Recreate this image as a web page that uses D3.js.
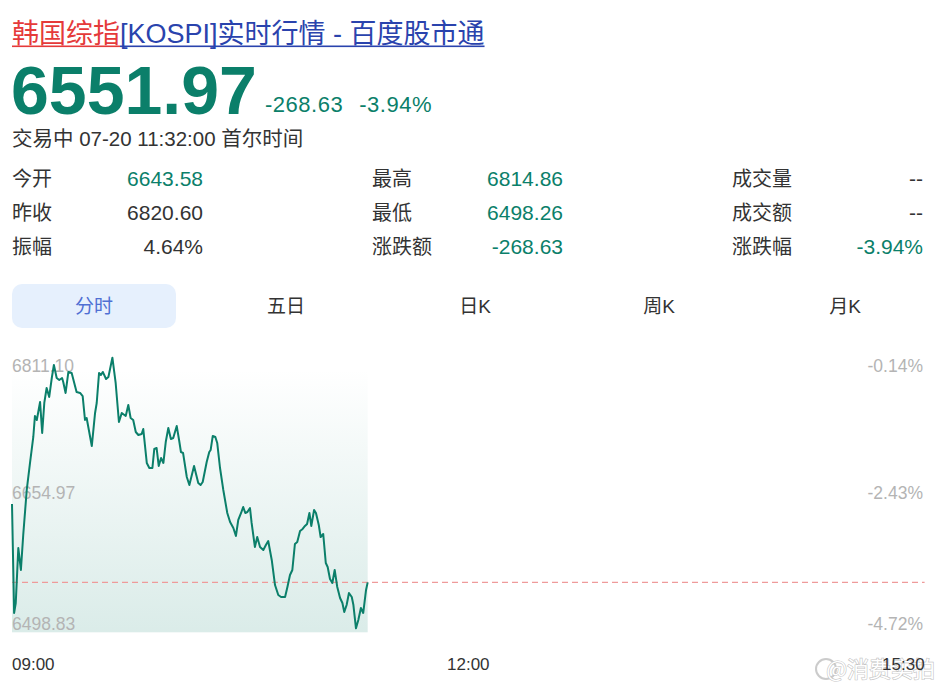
<!DOCTYPE html>
<html>
<head>
<meta charset="utf-8">
<script src="https://cdn.jsdelivr.net/npm/d3@7"></script>
<style>
  html, body { margin: 0; padding: 0; background: #fff; }
  svg { display: block; font-family: "Liberation Sans", Arial, "Noto Sans CJK SC", sans-serif; }
</style>
</head>
<body>
<div id="chart"></div>
<script>
// ---- data ----
const TITLE_RED = "韩国综指";
const TITLE_BLUE = "[KOSPI]实时行情 - 百度股市通";
const LAST_PRICE = 6551.97;
const CHANGE_TEXT = ["-268.63", "-3.94%"];
const STATUS_TEXT = "交易中 07-20 11:32:00 首尔时间";

const statLabels = [["今开", "昨收", "振幅"], ["最高", "最低", "涨跌额"], ["成交量", "成交额", "涨跌幅"]];
const statValues = [["6643.58", "6820.60", "4.64%"], ["6814.86", "6498.26", "-268.63"], ["--", "--", "-3.94%"]];
const statGreen = [[true, false, false], [true, true, true], [false, false, true]];

const tabs = ["分时", "五日", "日K", "周K", "月K"];

const priceTicks = [6811.10, 6654.97, 6498.83];
const pctTicks = ["-0.14%", "-2.43%", "-4.72%"];
const timeTicks = ["09:00", "12:00", "15:30"];
const SESSION_MINUTES = 390; // 09:00 - 15:30
const DAY_HIGH = 6814.86, DAY_LOW = 6498.26;

// minutes after 09:00
const minutes = [0, 0.9, 1.6, 2.7, 3.8, 4.8, 6.3, 7.7, 9.1, 9.8, 10.6, 12.0, 12.9, 13.8, 14.8, 15.9, 17.0, 17.9, 19.1, 20.2,
  21.4, 21.9, 22.9, 24.1, 25.5, 27.6, 29.1, 30.2, 31.2, 31.9, 34.1, 35.5, 36.2, 37.2, 38.0, 38.8, 40.2, 41.2, 42.9, 44.3,
  45.7, 46.9, 48.6, 49.7, 50.7, 51.8, 52.9, 54.0, 55.4, 56.1, 57.6, 58.7, 60.0, 60.8, 61.8, 62.7, 63.7, 64.7, 65.7, 66.8,
  67.9, 68.9, 70.4, 71.4, 72.2, 73.1, 74.7, 75.8, 77.8, 79.6, 80.6, 81.5, 83.2, 84.3, 84.9, 85.8, 86.9, 87.7, 88.9, 90.3,
  92.0, 93.2, 94.6, 95.7, 96.7, 97.9, 98.8, 99.7, 100.6, 101.7, 102.4, 103.8, 104.8, 106.0, 107.4, 108.5, 109.5, 111.0, 112.4, 113.8,
  115.0, 116.7, 117.7, 118.8, 119.8, 120.9, 121.9, 123.1, 124.2, 125.2, 126.1, 127.1, 127.9, 129.1, 129.9, 131.1, 131.9, 133.0, 134.1, 134.9,
  135.9, 136.9, 137.9, 139.0, 140.2, 141.2, 142.0, 143.0, 144.0, 145.2, 145.9, 147.0, 148.0, 149.1, 150.1, 151.3, 152.0];
const prices = [6643.58, 6516.2, 6527.9, 6592.2, 6566.5, 6607.4, 6660.1, 6691.7, 6722.1, 6746.7, 6742.0, 6763.0, 6726.8, 6761.9, 6779.4, 6768.9, 6791.1, 6806.3, 6791.1, 6788.8,
  6791.1, 6786.4, 6773.6, 6798.2, 6796.9, 6774.7, 6773.6, 6770.0, 6742.0, 6744.3, 6711.5, 6750.2, 6761.9, 6797.0, 6794.6, 6798.2, 6789.9, 6792.3, 6814.86, 6785.3,
  6739.6, 6750.2, 6746.7, 6759.5, 6744.3, 6742.0, 6727.9, 6724.4, 6725.6, 6731.4, 6691.7, 6685.8, 6685.8, 6708.0, 6709.2, 6688.2, 6697.5, 6691.7, 6716.2, 6732.6,
  6719.7, 6720.9, 6734.9, 6718.6, 6704.5, 6703.4, 6675.3, 6665.9, 6688.2, 6668.3, 6665.9, 6669.4, 6692.8, 6704.5, 6706.9, 6723.3, 6722.1, 6715.1, 6685.8, 6660.1,
  6633.2, 6622.6, 6615.6, 6606.3, 6625.0, 6633.2, 6640.2, 6633.2, 6634.3, 6639.0, 6621.5, 6593.4, 6605.1, 6593.4, 6589.9, 6595.7, 6600.4, 6578.2, 6548.9, 6537.2,
  6534.9, 6534.9, 6546.6, 6560.6, 6566.5, 6596.9, 6599.2, 6612.1, 6614.5, 6618.0, 6620.3, 6633.2, 6618.0, 6636.7, 6633.2, 6619.1, 6605.1, 6608.6, 6574.7, 6570.0,
  6556.0, 6551.3, 6566.5, 6546.6, 6533.7, 6527.9, 6517.3, 6525.5, 6539.6, 6534.9, 6525.5, 6498.26, 6508.0, 6522.0, 6516.2, 6543.1, 6551.97];

// ---- styling ----
const W = 945, H = 693;
const GREEN = "#0b7f6a";
const DARK = "#333333";
const GREY = "#b4b4b4";

const svg = d3.select("#chart").append("svg")
  .attr("width", W).attr("height", H)
  .attr("viewBox", [0, 0, W, H]);

// title with separate underlines for the two links
const title = svg.append("text").attr("x", 12).attr("y", 43).attr("font-size", "27px")
  .attr("font-family", "'Liberation Sans', 'Noto Sans CJK SC', sans-serif");
const tRed = title.append("tspan").attr("fill", "#e53a3a").text(TITLE_RED);
const tBlue = title.append("tspan").attr("fill", "#2a43ad").text(TITLE_BLUE);
const redW = tRed.node().getComputedTextLength();
const blueW = tBlue.node().getComputedTextLength();
svg.append("rect").attr("x", 12).attr("y", 45.5).attr("width", redW).attr("height", 1.6).attr("fill", "#e53a3a");
svg.append("rect").attr("x", 12 + redW).attr("y", 45.5).attr("width", blueW).attr("height", 1.6).attr("fill", "#2a43ad");

// price header
svg.append("text").attr("x", 11).attr("y", 114).attr("font-size", "68px").attr("font-weight", "bold")
  .attr("fill", GREEN).text(LAST_PRICE.toFixed(2));
svg.append("text").attr("x", 265).attr("y", 112).attr("font-size", "22px").attr("letter-spacing", "0.5px")
  .attr("fill", GREEN).text(CHANGE_TEXT[0]);
svg.append("text").attr("x", 432).attr("y", 112).attr("font-size", "22px").attr("letter-spacing", "0.5px")
  .attr("fill", GREEN).attr("text-anchor", "end").text(CHANGE_TEXT[1]);
svg.append("text").attr("x", 12).attr("y", 146).attr("font-size", "20.5px").attr("fill", DARK)
  .text(STATUS_TEXT);

// stats grid
const colLabelX = [12, 372, 732];
const colValueX = [203, 563, 923];
const rowY = [186, 220, 254];
statLabels.forEach((col, c) => {
  col.forEach((lab, r) => {
    svg.append("text").attr("x", colLabelX[c]).attr("y", rowY[r]).attr("font-size", "20px")
      .attr("fill", DARK).text(lab);
    svg.append("text").attr("x", colValueX[c]).attr("y", rowY[r]).attr("font-size", "21px")
      .attr("text-anchor", "end").attr("fill", statGreen[c][r] ? GREEN : DARK).text(statValues[c][r]);
  });
});

// tabs
const tabX = [94, 286, 475, 659, 845];
svg.append("rect").attr("x", 12).attr("y", 284).attr("width", 164).attr("height", 44)
  .attr("rx", 10).attr("fill", "#e6f0fd");
tabs.forEach((tb, i) => {
  svg.append("text").attr("x", tabX[i]).attr("y", 313).attr("text-anchor", "middle")
    .attr("font-size", "19px").attr("fill", i === 0 ? "#4f6fd3" : DARK).text(tb);
});

// ---- intraday chart ----
const x = d3.scaleLinear().domain([0, SESSION_MINUTES]).range([12, 924.6]);
const y = d3.scaleLinear().domain([DAY_LOW, DAY_HIGH]).range([628.3, 357.7]);
const pts = minutes.map((m, i) => ({ m, p: prices[i] }));

const defs = svg.append("defs");
const grad = defs.append("linearGradient").attr("id", "fillGrad")
  .attr("x1", 0).attr("y1", 0).attr("x2", 0).attr("y2", 1);
grad.append("stop").attr("offset", "0%").attr("stop-color", "#0b7f6a").attr("stop-opacity", 0);
grad.append("stop").attr("offset", "100%").attr("stop-color", "#0b7f6a").attr("stop-opacity", 0.15);

const lastM = minutes[minutes.length - 1];
svg.append("rect")
  .attr("x", x(0)).attr("y", y(priceTicks[0]) + 8)
  .attr("width", x(lastM) - x(0)).attr("height", y(DAY_LOW) + 4 - (y(priceTicks[0]) + 8))
  .attr("fill", "url(#fillGrad)");

// left price labels, right percent labels
const labelShift = [5, -1, -4];
priceTicks.forEach((v, i) => {
  svg.append("text").attr("x", 12).attr("y", y(v) + labelShift[i]).attr("dy", "0.35em")
    .attr("font-size", "17.5px").attr("fill", GREY).text(v.toFixed(2));
  svg.append("text").attr("x", 923).attr("y", y(v) + labelShift[i]).attr("dy", "0.35em")
    .attr("text-anchor", "end").attr("font-size", "17.5px").attr("fill", GREY).text(pctTicks[i]);
});

// current price reference line
svg.append("line")
  .attr("x1", x(0)).attr("x2", x(SESSION_MINUTES))
  .attr("y1", y(LAST_PRICE)).attr("y2", y(LAST_PRICE))
  .attr("stroke", "#ef9a9a").attr("stroke-width", 1.2).attr("stroke-dasharray", "6,4");

svg.append("path").datum(pts)
  .attr("fill", "none").attr("stroke", GREEN).attr("stroke-width", 2)
  .attr("stroke-linejoin", "round")
  .attr("d", d3.line().x(d => x(d.m)).y(d => y(d.p)));

// time labels
const timePos = [x(0), (x(0) + x(SESSION_MINUTES)) / 2, x(SESSION_MINUTES)];
const timeAnchor = ["start", "middle", "end"];
timeTicks.forEach((t, i) => {
  svg.append("text").attr("x", timePos[i]).attr("y", 670).attr("text-anchor", timeAnchor[i])
    .attr("font-size", "17px").attr("fill", DARK).text(t);
});

// watermark (drawn beneath the last time label as in the source)
const wm = svg.insert("g", "text:last-of-type").attr("opacity", 0.5);
wm.append("circle").attr("cx", 826).attr("cy", 669).attr("r", 10)
  .attr("fill", "none").attr("stroke", "#999").attr("stroke-width", 2);
wm.append("text").attr("x", 935).attr("y", 677).attr("text-anchor", "end")
  .attr("font-size", "22px").attr("font-family", "'Noto Sans CJK SC', sans-serif")
  .attr("fill", "#fff").attr("stroke", "#888").attr("stroke-width", 1.2).attr("paint-order", "stroke")
  .text("@消费实拍");
</script>
</body>
</html>
